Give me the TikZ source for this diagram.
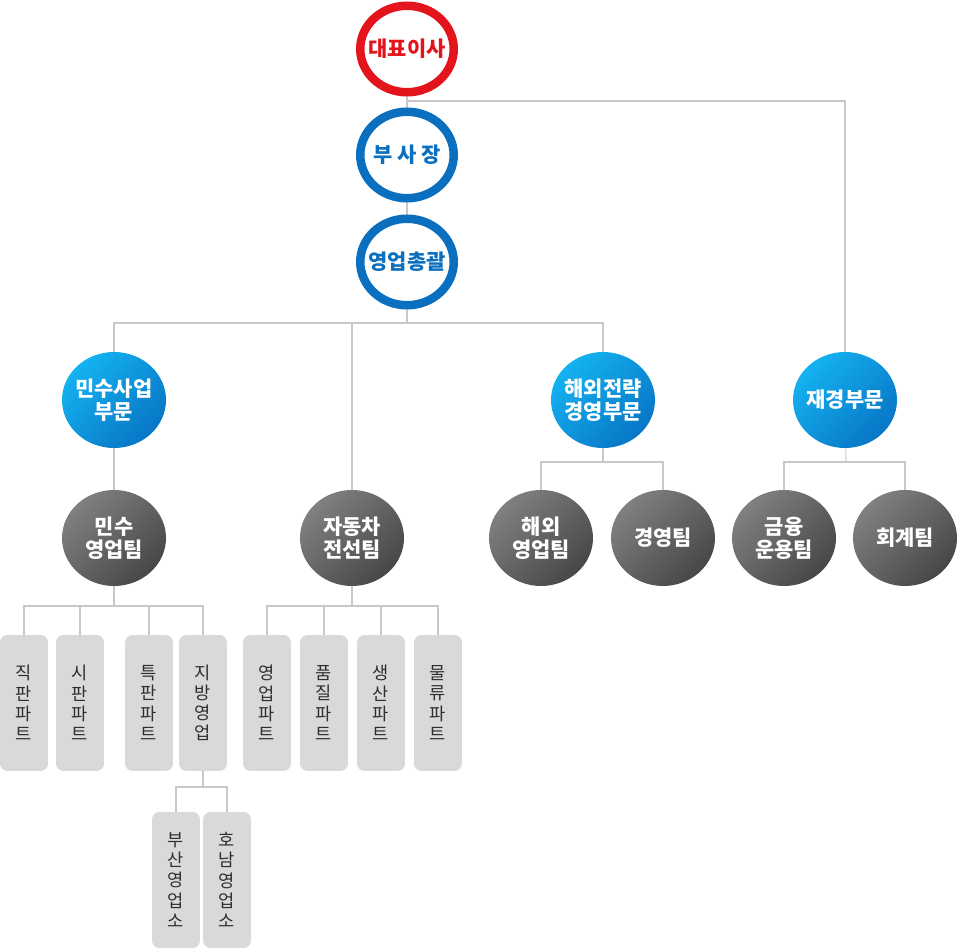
\documentclass[tikz,border=0pt]{standalone}
\usepackage{fontspec}
\setmainfont{Noto Sans CJK KR}
\usetikzlibrary{positioning,shapes.geometric,backgrounds}
\definecolor{ceored}{HTML}{E3141B}
\definecolor{ringblue}{HTML}{0B6FBF}
\definecolor{deptlight}{HTML}{14B2F0}
\definecolor{deptdark}{HTML}{0876C6}
\definecolor{teamlight}{HTML}{808080}
\definecolor{teamdark}{HTML}{474747}
\definecolor{partgray}{HTML}{D9D9D9}
\definecolor{parttext}{HTML}{2E2E2E}
\definecolor{linegray}{HTML}{C8C8C8}
\tikzset{
  link/.style={draw=linegray, line width=0.6pt},
  ring/.style={ellipse, draw=ringblue, line width=0.17cm, fill=white, minimum width=1.87cm, minimum height=1.73cm, inner xsep=-0.15cm, inner ysep=0pt, align=center, text=ringblue, font=\bfseries\fontsize{11.9}{13.5}\selectfont},
  ringred/.style={ring, draw=ceored, text=ceored},
  dept/.style={ellipse, top color=deptlight, bottom color=deptdark, shading angle=45, minimum width=2.08cm, minimum height=1.92cm, inner xsep=-0.15cm, inner ysep=0pt, align=center, text=white, font=\bfseries\fontsize{11.9}{13}\selectfont},
  team/.style={dept, top color=teamlight, bottom color=teamdark, shading angle=45},
  part/.style={rectangle, rounded corners=0.15cm, fill=partgray, minimum width=0.96cm, minimum height=2.72cm, inner sep=0pt, align=center, text=parttext, font=\fontsize{10}{11.5}\selectfont}
}

\begin{document}
\begin{tikzpicture}[x=0.02cm, y=-0.02cm]
  \useasboundingbox (0,0) rectangle (958,949);
  % top
  \node[ringred] (ceo) at (407,49) {대표이사};
  \node[ring] (vp) at (407,155) {부 사 장};
  \node[ring] (gm) at (407,262) {영업총괄};
  % divisions
  \node[dept] (civ) at (114,400) {민수사업\\부문};
  \node[dept] (ovs) at (603,400) {해외전략\\경영부문};
  \node[dept] (fin) at (845,400) {재경부문};
  % teams
  \node[team] (civt) at (114,538) {민수\\영업팀};
  \node[team] (auto) at (352,538) {자동차\\전선팀};
  \node[team] (ovst) at (541,538) {해외\\영업팀};
  \node[team] (mgmt) at (663,538) {경영팀};
  \node[team] (fint) at (784,538) {금융\\운용팀};
  \node[team] (acct) at (905,538) {회계팀};
  % parts
  \node[part] (direct) at (24,703) {직\\판\\파\\트};
  \node[part] (retail) at (80,703) {시\\판\\파\\트};
  \node[part] (special) at (149,703) {특\\판\\파\\트};
  \node[part] (local) at (203,703) {지\\방\\영\\업};
  \node[part] (sales) at (267,703) {영\\업\\파\\트};
  \node[part] (quality) at (324,703) {품\\질\\파\\트};
  \node[part] (prod) at (381,703) {생\\산\\파\\트};
  \node[part] (logis) at (438,703) {물\\류\\파\\트};
  \node[part] (busan) at (176,880) {부\\산\\영\\업\\소};
  \node[part] (honam) at (227,880) {호\\남\\영\\업\\소};

  \coordinate (b0) at (407,101);
  \coordinate (b1) at (407,323);
  \coordinate (b2) at (603,462);
  \coordinate (b3) at (846,462);
  \coordinate (b4) at (114,606);
  \coordinate (b5) at (352,606);
  \coordinate (b6) at (203,787);

  \begin{scope}[on background layer]
    \draw[link] (ceo) -- (gm);
    \draw[link] (b0) -| (fin);
    \draw[link] (gm) -- (b1);
    \draw[link] (civ) |- (b1) -| (ovs);
    \draw[link] (b1 -| auto) -- (auto);
    \draw[link] (civ) -- (civt);
    \draw[link] (ovs) -- (b2);
    \draw[link] (ovst) |- (b2) -| (mgmt);
    \draw[link] (fin) -- (b3);
    \draw[link] (fint) |- (b3) -| (acct);
    \draw[link] (civt) -- (b4);
    \draw[link] (auto) -- (b5);
    \foreach \p in {direct,retail,special,local}
      \draw[link] (\p) |- (b4);
    \foreach \p in {sales,quality,prod,logis}
      \draw[link] (\p) |- (b5);
    \draw[link] (local) -- (b6);
    \foreach \p in {busan,honam}
      \draw[link] (\p) |- (b6);
  \end{scope}
\end{tikzpicture}
\end{document}
